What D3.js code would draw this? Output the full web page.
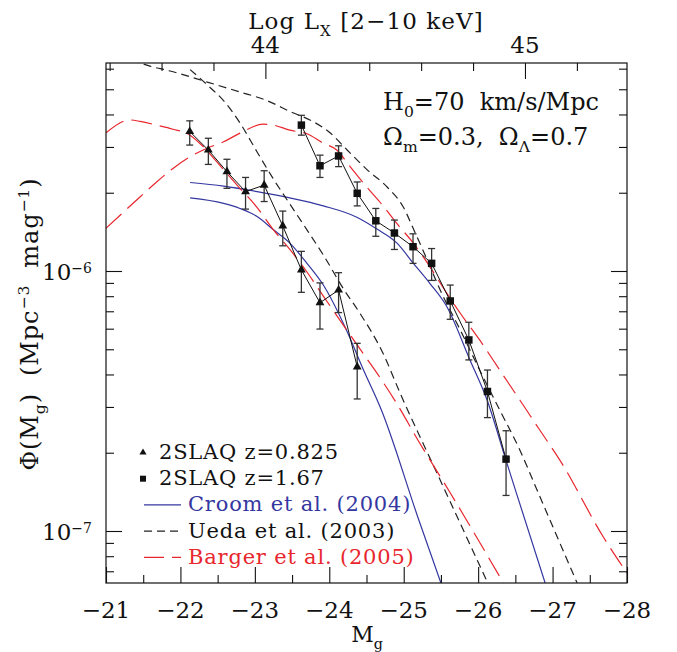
<!DOCTYPE html>
<html>
<head>
<meta charset="utf-8">
<script src="https://cdn.jsdelivr.net/npm/d3@7"></script>
<style>
  body { margin: 0; background: #fff; }
  text { font-family: "DejaVu Serif", serif; fill: #111; white-space: pre; }
</style>
</head>
<body>
<svg id="chart" width="677" height="652"></svg>
<script>
// 2SLAQ z=0.825 (triangles)
const triMag = [-22.125, -22.375, -22.625, -22.875, -23.125, -23.375, -23.625, -23.875, -24.125, -24.375];
const triPhi = [3.44e-6, 2.92e-6, 2.41e-6, 2.02e-6, 2.14e-6, 1.49e-6, 1.01e-6, 7.55e-7, 8.45e-7, 4.28e-7];
const triLo  = [3.05e-6, 2.57e-6, 2.08e-6, 1.73e-6, 1.85e-6, 1.25e-6, 8.28e-7, 5.98e-7, 6.92e-7, 3.22e-7];
const triHi  = [3.78e-6, 3.24e-6, 2.69e-6, 2.29e-6, 2.43e-6, 1.70e-6, 1.19e-6, 9.00e-7, 9.85e-7, 5.27e-7];

// 2SLAQ z=1.67 (squares)
const sqMag = [-23.625, -23.875, -24.125, -24.375, -24.625, -24.875, -25.125, -25.375, -25.625, -25.875, -26.125, -26.375];
const sqPhi = [3.64e-6, 2.54e-6, 2.77e-6, 1.99e-6, 1.56e-6, 1.40e-6, 1.24e-6, 1.07e-6, 7.67e-7, 5.43e-7, 3.44e-7, 1.89e-7];
const sqLo  = [3.33e-6, 2.29e-6, 2.52e-6, 1.78e-6, 1.36e-6, 1.21e-6, 1.07e-6, 9.20e-7, 6.52e-7, 4.55e-7, 2.73e-7, 1.37e-7];
const sqHi  = [3.97e-6, 2.79e-6, 3.03e-6, 2.20e-6, 1.74e-6, 1.57e-6, 1.39e-6, 1.22e-6, 8.83e-7, 6.35e-7, 4.16e-7, 2.43e-7];

// Croom et al. (2004)
const croomLoMag = [-22.13, -22.58, -22.80, -23.03, -23.25, -23.47, -23.70, -23.92, -24.23, -24.46, -24.70, -25.19, -25.50];
const croomLoPhi = [1.91e-6, 1.82e-6, 1.74e-6, 1.62e-6, 1.44e-6, 1.28e-6, 1.07e-6, 8.83e-7, 5.93e-7, 4.16e-7, 2.92e-7, 1.13e-7, 6.31e-8];
const croomHiMag = [-22.13, -22.58, -23.03, -23.47, -23.92, -24.37, -24.64, -24.91, -25.13, -25.35, -25.58, -25.89, -26.12, -26.36, -26.50, -26.90];
const croomHiPhi = [2.19e-6, 2.12e-6, 2.02e-6, 1.91e-6, 1.78e-6, 1.61e-6, 1.45e-6, 1.28e-6, 1.07e-6, 8.97e-7, 7.29e-7, 4.55e-7, 3.19e-7, 1.93e-7, 1.44e-7, 6.31e-8];

// Ueda et al. (2003)
const uedaLoMag = [-22.13, -22.36, -22.60, -22.80, -23.03, -23.24, -23.47, -23.70, -23.93, -24.20, -24.41, -24.72, -24.95, -25.49, -26.13];
const uedaLoPhi = [5.95e-6, 5.20e-6, 4.45e-6, 3.71e-6, 2.87e-6, 2.28e-6, 1.81e-6, 1.44e-6, 1.14e-6, 8.45e-7, 6.89e-7, 4.84e-7, 3.40e-7, 1.57e-7, 6.31e-8];
const uedaHiMag = [-21.00, -21.46, -21.59, -21.86, -22.36, -22.80, -23.14, -23.51, -23.74, -24.01, -24.24, -24.51, -24.78, -24.99, -25.15, -25.33, -25.49, -25.76, -26.02, -26.29, -26.56, -26.79, -27.33];
const uedaHiPhi = [6.84e-6, 6.31e-6, 6.14e-6, 5.88e-6, 5.33e-6, 4.88e-6, 4.55e-6, 4.06e-6, 3.81e-6, 3.40e-6, 2.92e-6, 2.45e-6, 2.10e-6, 1.77e-6, 1.41e-6, 1.08e-6, 8.45e-7, 5.93e-7, 4.16e-7, 2.92e-7, 2.05e-7, 1.44e-7, 6.31e-8];

// Barger et al. (2005)
const bargerLoMag = [-21.00, -21.32, -21.46, -21.68, -21.90, -22.13, -22.31, -22.58, -22.80, -23.02, -23.25, -23.47, -23.70, -23.92, -24.28, -24.50, -24.73, -24.91, -25.19, -25.62, -26.34];
const bargerLoPhi = [3.40e-6, 3.81e-6, 3.76e-6, 3.64e-6, 3.51e-6, 3.33e-6, 3.00e-6, 2.45e-6, 2.08e-6, 1.77e-6, 1.44e-6, 1.21e-6, 9.91e-7, 8.01e-7, 5.68e-7, 4.62e-7, 3.71e-7, 3.08e-7, 2.24e-7, 1.41e-7, 6.31e-8];
const bargerHiMag = [-21.00, -21.46, -21.68, -21.90, -22.13, -22.35, -22.58, -22.80, -23.11, -23.25, -23.47, -23.70, -23.92, -24.10, -24.28, -24.50, -24.73, -24.91, -25.13, -25.35, -25.58, -25.76, -26.02, -26.29, -26.56, -26.83, -27.10, -27.68, -28.00];
const bargerHiPhi = [1.46e-6, 1.93e-6, 2.20e-6, 2.48e-6, 2.75e-6, 2.96e-6, 3.14e-6, 3.39e-6, 3.67e-6, 3.64e-6, 3.48e-6, 3.37e-6, 3.10e-6, 2.92e-6, 2.52e-6, 2.11e-6, 1.77e-6, 1.52e-6, 1.28e-6, 1.04e-6, 8.20e-7, 6.88e-7, 5.43e-7, 4.16e-7, 3.19e-7, 2.44e-7, 1.87e-7, 9.50e-8, 6.89e-8];

// axes
const magTicks = [-21, -22, -23, -24, -25, -26, -27, -28];
const lxTicks = [44, 45];
const phiDecades = [-7, -6];
const legendLabels = ["2SLAQ z=0.825", "2SLAQ z=1.67", "Croom et al. (2004)", "Ueda et al. (2003)", "Barger et al. (2005)"];

const BLUE = "#3437a0", RED = "#e8262d", INK = "#111";
const pL = 106, pR = 627, pT = 63, pB = 583;

const svg = d3.select("#chart");

const x = d3.scaleLinear().domain([-21, -28]).range([pL, pR]);
const y = d3.scaleLog().domain([Math.pow(10, -7.2), Math.pow(10, -5.2)]).range([pB, pT]);
const xTop = d3.scaleLinear().domain([43.386, 45.393]).range([pL, pR]);

// rich text with sub/superscripts
function rich(sel, parts, size) {
  let shift = 0;
  parts.forEach(([s, k]) => {
    const target = k === "sub" ? size * 0.3 : k === "sup" ? -size * 0.36 : 0;
    sel.append("tspan")
      .attr("dy", target - shift)
      .attr("font-size", k === "n" ? size : size * 0.65)
      .text(s);
    shift = target;
  });
}

svg.append("defs").append("clipPath").attr("id", "plotclip")
  .append("rect").attr("x", pL).attr("y", pT)
  .attr("width", pR - pL).attr("height", pB - pT);

const plot = svg.append("g").attr("clip-path", "url(#plotclip)");

// model curves
const line = d3.line().x(d => x(d[0])).y(d => y(d[1])).curve(d3.curveMonotoneX);
function curve(mags, phis, color, dash) {
  plot.append("path")
    .datum(d3.zip(mags, phis))
    .attr("d", line)
    .attr("fill", "none")
    .attr("stroke", color)
    .attr("stroke-width", 1.2)
    .attr("stroke-dasharray", dash);
}
curve(croomLoMag, croomLoPhi, BLUE, null);
curve(croomHiMag, croomHiPhi, BLUE, null);
curve(uedaLoMag, uedaLoPhi, "#222", "8,5");
curve(uedaHiMag, uedaHiPhi, "#222", "8,5");
curve(bargerLoMag, bargerLoPhi, RED, "21,8");
curve(bargerHiMag, bargerHiPhi, RED, "21,8");

// data series
function series(mags, phis, lo, hi, symbol, size) {
  const pts = mags.map((m, i) => ({ m, p: phis[i], lo: lo[i], hi: hi[i] }));
  plot.append("path")
    .datum(pts)
    .attr("d", d3.line().x(d => x(d.m)).y(d => y(d.p)))
    .attr("fill", "none")
    .attr("stroke", INK)
    .attr("stroke-width", 1);
  const eb = plot.append("g").attr("stroke", "#333").attr("stroke-width", 1.3);
  eb.selectAll(".v").data(pts).enter().append("line")
    .attr("x1", d => x(d.m)).attr("x2", d => x(d.m))
    .attr("y1", d => y(d.lo)).attr("y2", d => y(d.hi));
  eb.selectAll(".c1").data(pts).enter().append("line")
    .attr("x1", d => x(d.m) - 3.5).attr("x2", d => x(d.m) + 3.5)
    .attr("y1", d => y(d.lo)).attr("y2", d => y(d.lo));
  eb.selectAll(".c2").data(pts).enter().append("line")
    .attr("x1", d => x(d.m) - 3.5).attr("x2", d => x(d.m) + 3.5)
    .attr("y1", d => y(d.hi)).attr("y2", d => y(d.hi));
  plot.selectAll(null).data(pts).enter().append("path")
    .attr("d", d3.symbol().type(symbol).size(size))
    .attr("transform", d => `translate(${x(d.m)},${y(d.p)})`)
    .attr("fill", INK);
}
series(triMag, triPhi, triLo, triHi, d3.symbolTriangle, 34);
series(sqMag, sqPhi, sqLo, sqHi, d3.symbolSquare, 56);

// frame
svg.append("rect")
  .attr("x", pL).attr("y", pT)
  .attr("width", pR - pL).attr("height", pB - pT)
  .attr("fill", "none").attr("stroke", INK).attr("stroke-width", 1.2);

// tick marks
function ticks(axis, values, len, transform) {
  svg.append("g").attr("transform", transform)
    .call(axis.tickValues(values).tickSizeInner(-len).tickSizeOuter(0).tickFormat(""))
    .call(g => g.select(".domain").remove())
    .selectAll("line").attr("stroke", INK).attr("stroke-width", 1.1);
}
const magMinor = d3.range(-21, -28.01, -0.5).filter(v => !Number.isInteger(v));
const lxMinor = d3.range(43.4, 45.3, 0.2).filter(v => Math.abs(v - 44) > 0.01 && Math.abs(v - 45) > 0.01);
const phiMinor = [];
[-8, -7, -6].forEach(e => d3.range(2, 10).forEach(k => {
  const v = k * Math.pow(10, e);
  if (v > y.domain()[0] && v < y.domain()[1]) phiMinor.push(v);
}));
const phiMajor = phiDecades.map(e => Math.pow(10, e));

ticks(d3.axisBottom(x), magTicks, 16, `translate(0,${pB})`);
ticks(d3.axisBottom(x), magMinor, 8, `translate(0,${pB})`);
ticks(d3.axisTop(xTop), lxTicks, 16, `translate(0,${pT})`);
ticks(d3.axisTop(xTop), lxMinor, 8, `translate(0,${pT})`);
ticks(d3.axisLeft(y), phiMajor, 16, `translate(${pL},0)`);
ticks(d3.axisLeft(y), phiMinor, 8, `translate(${pL},0)`);
ticks(d3.axisRight(y), phiMajor, 16, `translate(${pR},0)`);
ticks(d3.axisRight(y), phiMinor, 8, `translate(${pR},0)`);

// tick labels
svg.selectAll(".mlab").data(magTicks).enter().append("text")
  .attr("x", d => x(d)).attr("y", pB + 35)
  .attr("text-anchor", "middle").attr("font-size", 23)
  .text(d => "\u2212" + Math.abs(d));

svg.selectAll(".llab").data(lxTicks).enter().append("text")
  .attr("x", d => xTop(d)).attr("y", pT - 10)
  .attr("text-anchor", "middle").attr("font-size", 23)
  .text(d => d);

phiDecades.forEach(e => {
  const t = svg.append("text")
    .attr("x", 92).attr("y", y(Math.pow(10, e)) + 9)
    .attr("text-anchor", "end");
  t.append("tspan").attr("font-size", 23).text("10");
  t.append("tspan").attr("font-size", 14).attr("dy", -7).text("\u2212" + Math.abs(e));
});

// axis titles
const xt = svg.append("text").attr("x", 367).attr("y", 642).attr("text-anchor", "middle");
rich(xt, [["M", "n"], ["g", "sub"]], 22);

const tt = svg.append("text").attr("x", 366).attr("y", 29).attr("text-anchor", "middle").attr("letter-spacing", 1.1);
rich(tt, [["Log L", "n"], ["X", "sub"], [" [2\u221210 keV]", "n"]], 23);

const yt = svg.append("text")
  .attr("transform", "translate(38,324) rotate(-90)")
  .attr("text-anchor", "middle")
  .attr("letter-spacing", 0.9);
rich(yt, [["\u03a6(M", "n"], ["g", "sub"], [")  (Mpc", "n"], ["\u22123", "sup"], ["  mag", "n"], ["\u22121", "sup"], [")", "n"]], 24);

// cosmology note
const n1 = svg.append("text").attr("x", 383).attr("y", 110);
rich(n1, [["H", "n"], ["0", "sub"], ["=70  km/s/Mpc", "n"]], 24);
const n2 = svg.append("text").attr("x", 383).attr("y", 145);
rich(n2, [["\u03a9", "n"], ["m", "sub"], ["=0.3,  \u03a9", "n"], ["\u039b", "sub"], ["=0.7", "n"]], 24);

// legend
const legendColors = [INK, INK, BLUE, INK, RED];
const legendY = legendLabels.map((_, i) => 452.5 + i * 26.2);
const lg = svg.append("g");
lg.append("path").attr("d", d3.symbol().type(d3.symbolTriangle).size(22)())
  .attr("transform", `translate(143,${legendY[0]})`).attr("fill", INK);
lg.append("path").attr("d", d3.symbol().type(d3.symbolSquare).size(36)())
  .attr("transform", `translate(143,${legendY[1]})`).attr("fill", INK);
const legendDash = [null, "8,5", "20,8"];
const legendStroke = [BLUE, "#222", RED];
[2, 3, 4].forEach((r, j) => {
  lg.append("line")
    .attr("x1", 144).attr("x2", 181)
    .attr("y1", legendY[r]).attr("y2", legendY[r])
    .attr("stroke", legendStroke[j]).attr("stroke-width", 1.2)
    .attr("stroke-dasharray", legendDash[j]);
});
lg.selectAll("text").data(legendLabels).enter().append("text")
  .attr("x", (d, i) => i < 2 ? 159 : 188)
  .attr("y", (d, i) => legendY[i] + 6.5)
  .attr("font-size", 21)
  .attr("letter-spacing", 0.8)
  .style("fill", (d, i) => legendColors[i])
  .text(d => d);
</script>
</body>
</html>
